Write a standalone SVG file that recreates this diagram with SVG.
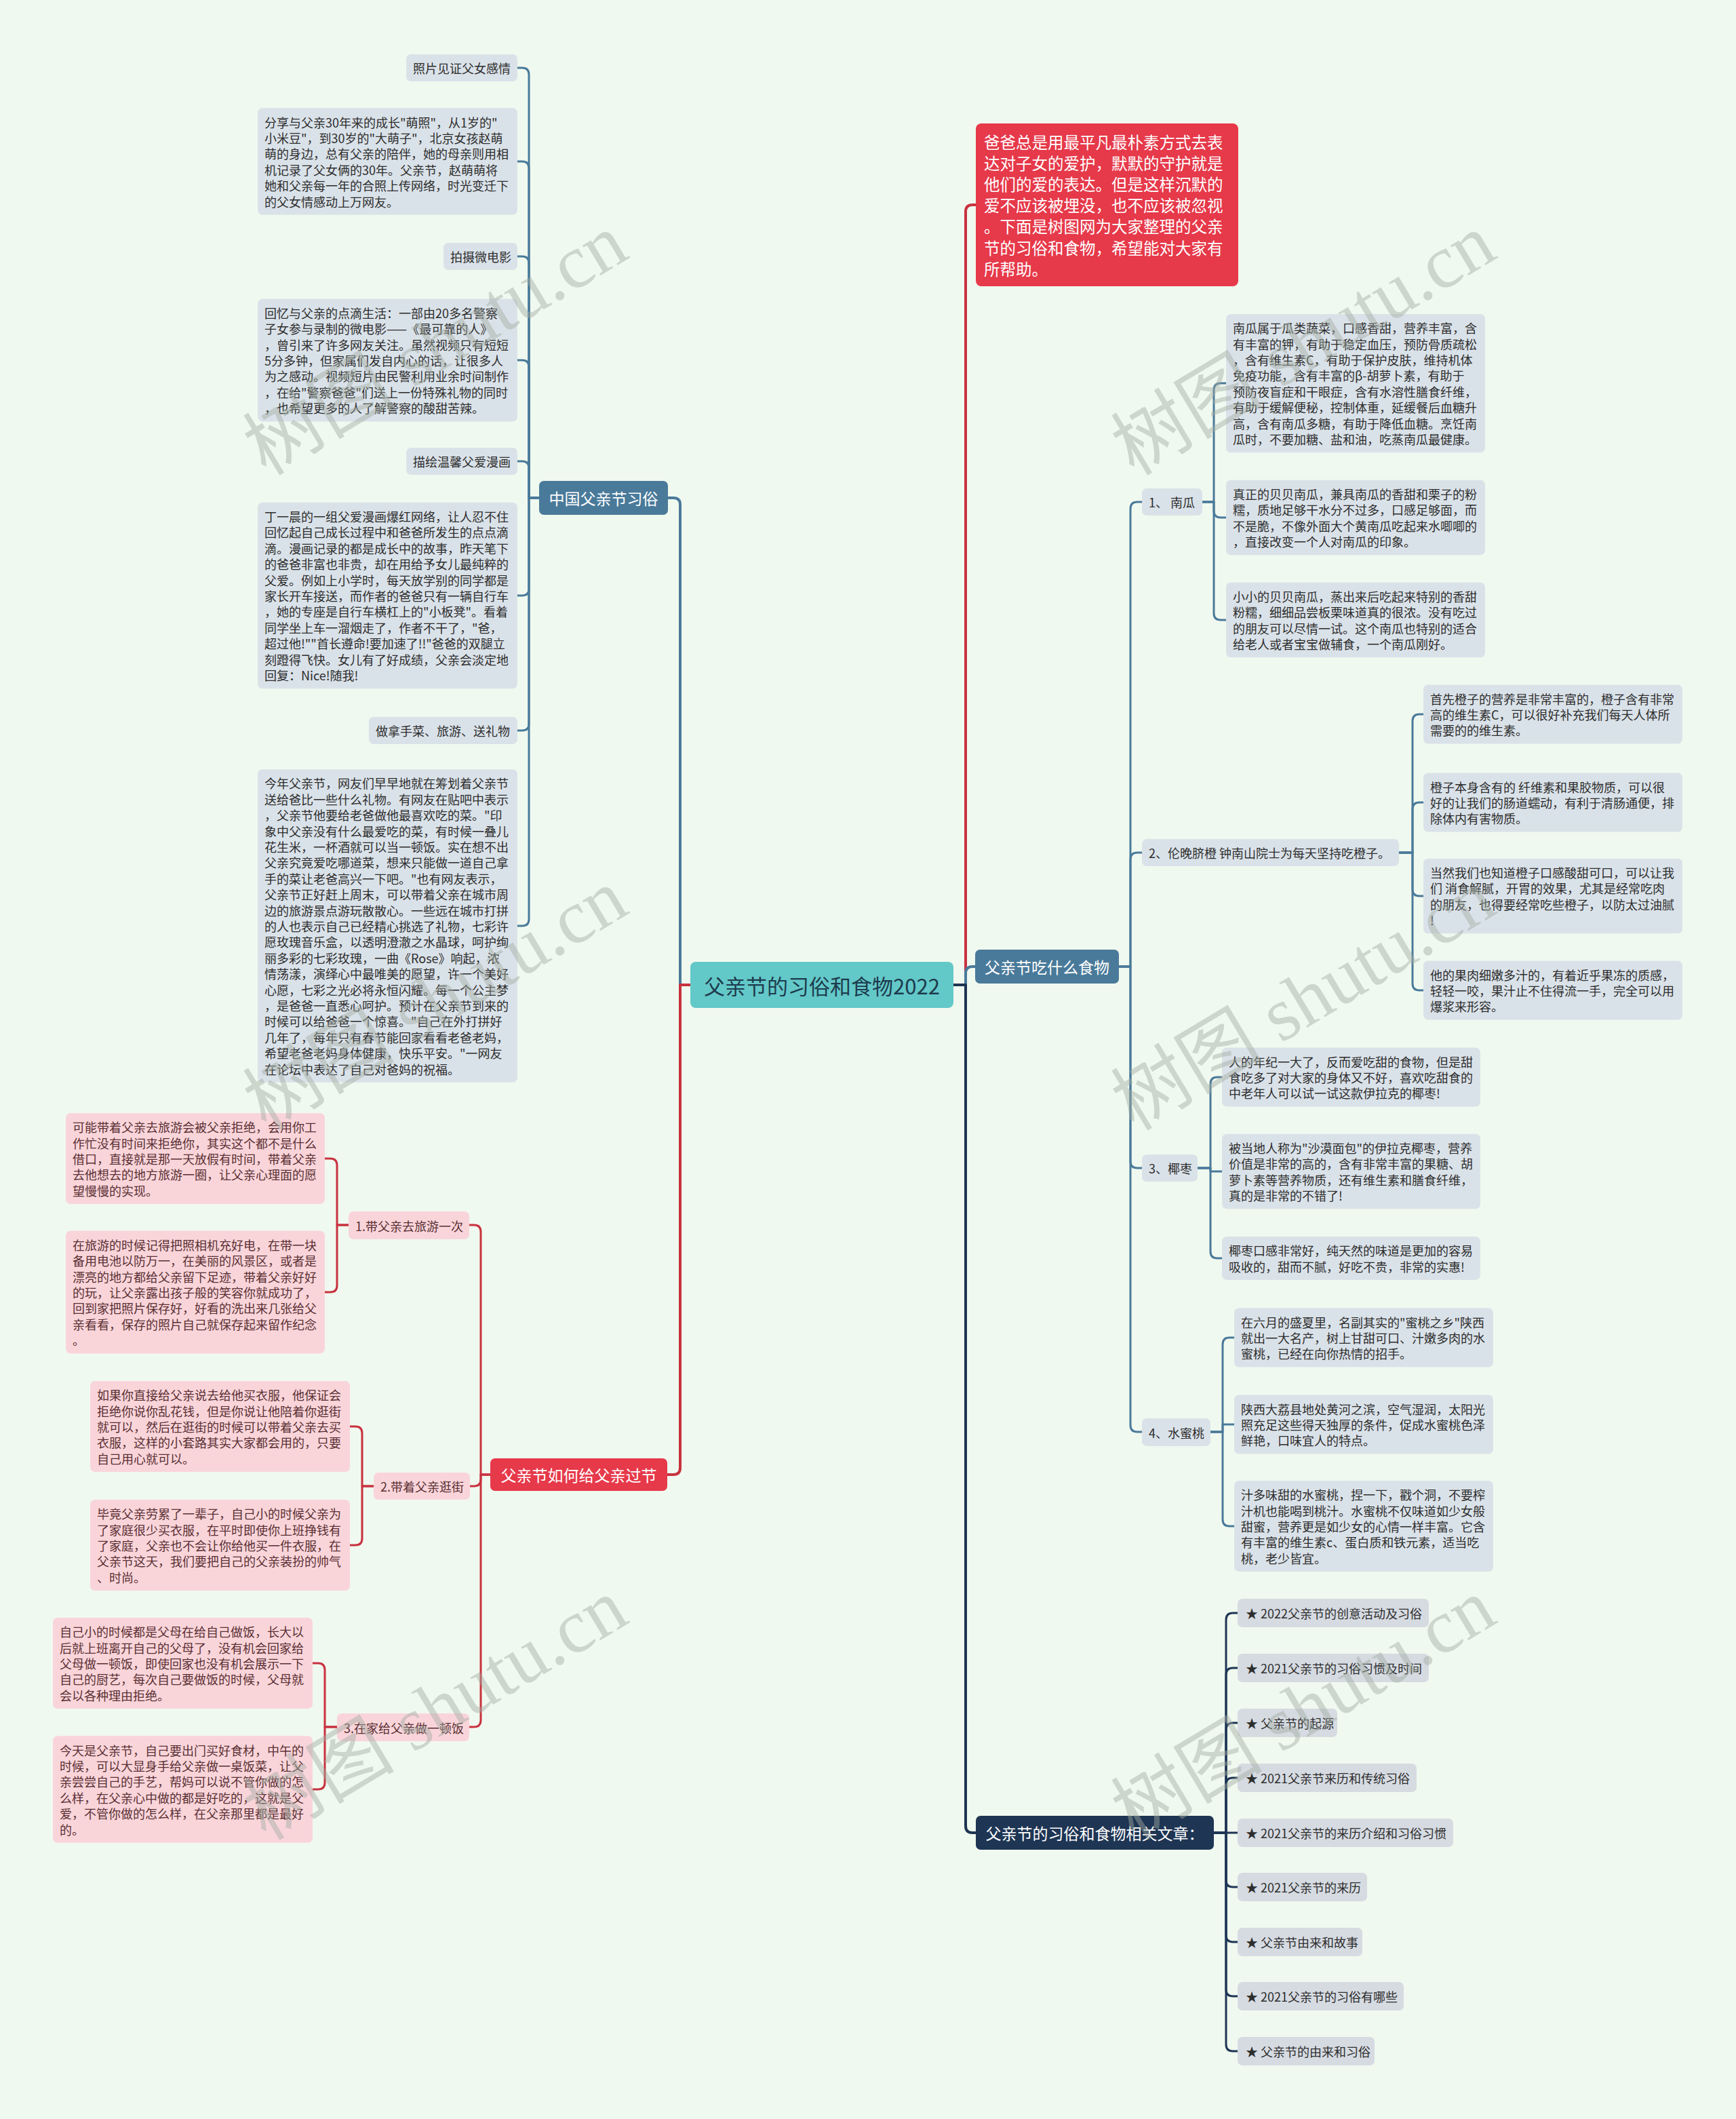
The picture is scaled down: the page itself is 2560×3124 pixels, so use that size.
<svg xmlns="http://www.w3.org/2000/svg" width="2560" height="3124" viewBox="0 0 2560 3124">
<style>
text{font-family:"Noto Sans CJK SC","Noto Sans",sans-serif;dominant-baseline:central}
.t{font-size:18px;fill:#2d2d2d}
.tp{font-size:18px;fill:#5a2f33}
.tw{font-size:23px;fill:#ffffff}
.tr{font-size:23.5px;fill:#ffffff}
.mid{text-anchor:middle}
.sb{fill:#dae2e9}
.pk{fill:#f9d5da}
.ar{fill:#d6dbe2}
.c{fill:none;stroke-width:3;stroke-linecap:round;stroke-linejoin:round}
.cb{stroke:#4a7a9a}
.cr{stroke:#c8323f}
.cn{stroke:#1e3554}
.cm{stroke-width:4}
.wm{font-family:"Liberation Serif","Noto Sans CJK SC",serif;font-size:112px;fill:#a3ada3;opacity:0.45;text-anchor:middle}
</style>
<rect width="2560" height="3124" fill="#f0f9ef"/>

<g id="connectors">
<path class="c cb cm" d="M1018,1452 H1003 V744 Q1003,734 993,734 H985"/>
<path class="c cr cm" d="M1018,1452 H1003 V2164 Q1003,2174 993,2174 H984"/>
<path class="c cr cm" d="M1406,1452 H1424 V312 Q1424,302 1434,302 H1439"/>
<path class="c cb cm" d="M1406,1452 H1424 V1435 Q1424,1425 1434,1425 H1438"/>
<path class="c cn cm" d="M1406,1452 H1424 V2692 Q1424,2702 1434,2702 H1439"/>

<path class="c cb" d="M795,734 H780 V110 Q780,100 770,100 H763"/>
<path class="c cb" d="M795,734 H780 V248 Q780,238 770,238 H763"/>
<path class="c cb" d="M795,734 H780 V388 Q780,378 770,378 H763"/>
<path class="c cb" d="M795,734 H780 V541 Q780,531 770,531 H763"/>
<path class="c cb" d="M795,734 H780 V690 Q780,680 770,680 H763"/>
<path class="c cb" d="M795,734 H780 V868 Q780,878 770,878 H763"/>
<path class="c cb" d="M795,734 H780 V1067 Q780,1077 770,1077 H763"/>
<path class="c cb" d="M795,734 H780 V1355 Q780,1365 770,1365 H763"/>

<path class="c cr" d="M723,2174 H709 V1816 Q709,1806 699,1806 H692"/>
<path class="c cr" d="M723,2174 H709 V2181 Q709,2191 699,2191 H693"/>
<path class="c cr" d="M723,2174 H709 V2536 Q709,2546 699,2546 H692"/>
<path class="c cr" d="M514,1806 H497 V1718 Q497,1708 487,1708 H479"/>
<path class="c cr" d="M514,1806 H497 V1895 Q497,1905 487,1905 H479"/>
<path class="c cr" d="M551,2191 H534 V2113 Q534,2103 524,2103 H516"/>
<path class="c cr" d="M551,2191 H534 V2268 Q534,2278 524,2278 H516"/>
<path class="c cr" d="M497,2546 H479 V2462 Q479,2452 469,2452 H461"/>
<path class="c cr" d="M497,2546 H479 V2628 Q479,2638 469,2638 H461"/>

<path class="c cb" d="M1650,1425 H1667 V750 Q1667,740 1677,740 H1684"/>
<path class="c cb" d="M1650,1425 H1667 V1267 Q1667,1257 1677,1257 H1684"/>
<path class="c cb" d="M1650,1425 H1667 V1712 Q1667,1722 1677,1722 H1684"/>
<path class="c cb" d="M1650,1425 H1667 V2101 Q1667,2111 1677,2111 H1684"/>

<path class="c cb" d="M1773,740 H1790 V575 Q1790,565 1800,565 H1808"/>
<path class="c cb" d="M1773,740 H1790 V753 Q1790,763 1800,763 H1808"/>
<path class="c cb" d="M1773,740 H1790 V904 Q1790,914 1800,914 H1808"/>

<path class="c cb" d="M2063,1257 H2083 V1063 Q2083,1053 2093,1053 H2099"/>
<path class="c cb" d="M2063,1257 H2083 V1193 Q2083,1183 2093,1183 H2099"/>
<path class="c cb" d="M2063,1257 H2083 V1311 Q2083,1321 2093,1321 H2099"/>
<path class="c cb" d="M2063,1257 H2083 V1450 Q2083,1460 2093,1460 H2099"/>

<path class="c cb" d="M1766,1722 H1785 V1598 Q1785,1588 1795,1588 H1802"/>
<path class="c cb" d="M1766,1722 H1785 V1727 H1802"/>
<path class="c cb" d="M1766,1722 H1785 V1845 Q1785,1855 1795,1855 H1802"/>

<path class="c cb" d="M1785,2111 H1803 V1982 Q1803,1972 1813,1972 H1820"/>
<path class="c cb" d="M1785,2111 H1803 V2100 H1820"/>
<path class="c cb" d="M1785,2111 H1803 V2240 Q1803,2250 1813,2250 H1820"/>

<path class="c cn" d="M1790,2702 H1808 V2388 Q1808,2378 1818,2378 H1825"/>
<path class="c cn" d="M1790,2702 H1808 V2469 Q1808,2459 1818,2459 H1825"/>
<path class="c cn" d="M1790,2702 H1808 V2550 Q1808,2540 1818,2540 H1825"/>
<path class="c cn" d="M1790,2702 H1808 V2631 Q1808,2621 1818,2621 H1825"/>
<path class="c cn" d="M1790,2702 H1825"/>
<path class="c cn" d="M1790,2702 H1808 V2772 Q1808,2782 1818,2782 H1825"/>
<path class="c cn" d="M1790,2702 H1808 V2853 Q1808,2863 1818,2863 H1825"/>
<path class="c cn" d="M1790,2702 H1808 V2933 Q1808,2943 1818,2943 H1825"/>
<path class="c cn" d="M1790,2702 H1808 V3014 Q1808,3024 1818,3024 H1825"/>
</g>

<g id="root">
<rect x="1018" y="1418" width="388" height="68" rx="8" fill="#63c8c8"/>
<text class="mid" x="1212" y="1452" style="font-size:31px;fill:#1d3b4d">父亲节的习俗和食物2022</text>
</g>

<g id="intro">
<rect x="1439" y="182" width="387" height="240" rx="8" fill="#e6394a"/>
<text class="tr"><tspan x="1451" y="208.6">爸爸总是用最平凡最朴素方式去表</tspan><tspan x="1451" y="239.8">达对子女的爱护，默默的守护就是</tspan><tspan x="1451" y="271">他们的爱的表达。但是这样沉默的</tspan><tspan x="1451" y="302.2">爱不应该被埋没，也不应该被忽视</tspan><tspan x="1451" y="333.4">。下面是树图网为大家整理的父亲</tspan><tspan x="1451" y="364.6">节的习俗和食物，希望能对大家有</tspan><tspan x="1451" y="395.8">所帮助。</tspan></text>
</g>

<g id="cn-customs">
<rect x="795" y="709" width="190" height="50" rx="7" fill="#4a7a9a"/>
<text class="tw mid" x="890" y="734">中国父亲节习俗</text>
</g>
<g id="cn-photo">
<rect class="sb" x="599" y="80" width="164" height="40" rx="7"/>
<text class="t" x="609" y="100">照片见证父女感情</text>
</g>
<g id="cn-photo-text">
<rect class="sb" x="380" y="159.3" width="383" height="157.4" rx="7"/>
<text class="t"><tspan x="390" y="179.5">分享与父亲30年来的成长"萌照"，从1岁的"</tspan><tspan x="390" y="202.9">小米豆"，到30岁的"大萌子"，北京女孩赵萌</tspan><tspan x="390" y="226.3">萌的身边，总有父亲的陪伴，她的母亲则用相</tspan><tspan x="390" y="249.7">机记录了父女俩的30年。父亲节，赵萌萌将</tspan><tspan x="390" y="273.1">她和父亲每一年的合照上传网络，时光变迁下</tspan><tspan x="390" y="296.5">的父女情感动上万网友。</tspan></text>
</g>
<g id="cn-film">
<rect class="sb" x="654" y="358" width="109" height="40" rx="7"/>
<text class="t" x="664" y="378">拍摄微电影</text>
</g>
<g id="cn-film-text">
<rect class="sb" x="380" y="440.6" width="383" height="180.8" rx="7"/>
<text class="t"><tspan x="390" y="460.8">回忆与父亲的点滴生活：一部由20多名警察</tspan><tspan x="390" y="484.2">子女参与录制的微电影——《最可靠的人》</tspan><tspan x="390" y="507.6">，曾引来了许多网友关注。虽然视频只有短短</tspan><tspan x="390" y="531">5分多钟，但家属们发自内心的话，让很多人</tspan><tspan x="390" y="554.4">为之感动。视频短片由民警利用业余时间制作</tspan><tspan x="390" y="577.8">，在给"警察爸爸"们送上一份特殊礼物的同时</tspan><tspan x="390" y="601.2">，也希望更多的人了解警察的酸甜苦辣。</tspan></text>
</g>
<g id="cn-comic">
<rect class="sb" x="599" y="660" width="164" height="40" rx="7"/>
<text class="t" x="609" y="680">描绘温馨父爱漫画</text>
</g>
<g id="cn-comic-text">
<rect class="sb" x="380" y="740.8" width="383" height="274.4" rx="7"/>
<text class="t"><tspan x="390" y="761">丁一晨的一组父爱漫画爆红网络，让人忍不住</tspan><tspan x="390" y="784.4">回忆起自己成长过程中和爸爸所发生的点点滴</tspan><tspan x="390" y="807.8">滴。漫画记录的都是成长中的故事，昨天笔下</tspan><tspan x="390" y="831.2">的爸爸非富也非贵，却在用给予女儿最纯粹的</tspan><tspan x="390" y="854.6">父爱。例如上小学时，每天放学别的同学都是</tspan><tspan x="390" y="878">家长开车接送，而作者的爸爸只有一辆自行车</tspan><tspan x="390" y="901.4">，她的专座是自行车横杠上的"小板凳"。看着</tspan><tspan x="390" y="924.8">同学坐上车一溜烟走了，作者不干了，"爸，</tspan><tspan x="390" y="948.2">超过他!""首长遵命!要加速了!!"爸爸的双腿立</tspan><tspan x="390" y="971.6">刻蹬得飞快。女儿有了好成绩，父亲会淡定地</tspan><tspan x="390" y="995">回复：Nice!随我!</tspan></text>
</g>
<g id="cn-gift">
<rect class="sb" x="544" y="1057" width="219" height="40" rx="7"/>
<text class="t" x="554" y="1077">做拿手菜、旅游、送礼物</text>
</g>
<g id="cn-gift-text">
<rect class="sb" x="380" y="1134.2" width="383" height="461.6" rx="7"/>
<text class="t"><tspan x="390" y="1154.4">今年父亲节，网友们早早地就在筹划着父亲节</tspan><tspan x="390" y="1177.8">送给爸比一些什么礼物。有网友在贴吧中表示</tspan><tspan x="390" y="1201.2">，父亲节他要给老爸做他最喜欢吃的菜。"印</tspan><tspan x="390" y="1224.6">象中父亲没有什么最爱吃的菜，有时候一叠儿</tspan><tspan x="390" y="1248">花生米，一杯酒就可以当一顿饭。实在想不出</tspan><tspan x="390" y="1271.4">父亲究竟爱吃哪道菜，想来只能做一道自己拿</tspan><tspan x="390" y="1294.8">手的菜让老爸高兴一下吧。"也有网友表示，</tspan><tspan x="390" y="1318.2">父亲节正好赶上周末，可以带着父亲在城市周</tspan><tspan x="390" y="1341.6">边的旅游景点游玩散散心。一些远在城市打拼</tspan><tspan x="390" y="1365">的人也表示自己已经精心挑选了礼物，七彩许</tspan><tspan x="390" y="1388.4">愿玫瑰音乐盒，以透明澄澈之水晶球，呵护绚</tspan><tspan x="390" y="1411.8">丽多彩的七彩玫瑰，一曲《Rose》响起，浓</tspan><tspan x="390" y="1435.2">情荡漾，演绎心中最唯美的愿望，许一个美好</tspan><tspan x="390" y="1458.6">心愿，七彩之光必将永恒闪耀。每一个公主梦</tspan><tspan x="390" y="1482">，是爸爸一直悉心呵护。预计在父亲节到来的</tspan><tspan x="390" y="1505.4">时候可以给爸爸一个惊喜。"自己在外打拼好</tspan><tspan x="390" y="1528.8">几年了，每年只有春节能回家看看老爸老妈，</tspan><tspan x="390" y="1552.2">希望老爸老妈身体健康，快乐平安。"一网友</tspan><tspan x="390" y="1575.6">在论坛中表达了自己对爸妈的祝福。</tspan></text>
</g>

<g id="celebrate">
<rect x="723" y="2150" width="261" height="48" rx="7" fill="#e6394a"/>
<text class="tw mid" x="853.5" y="2174">父亲节如何给父亲过节</text>
</g>
<g id="travel">
<rect class="pk" x="514" y="1786" width="178" height="41" rx="7"/>
<text class="tp" x="524" y="1806.5">1.带父亲去旅游一次</text>
</g>
<g id="travel-1">
<rect class="pk" x="97" y="1641" width="382" height="134" rx="7"/>
<text class="tp"><tspan x="107" y="1661.2">可能带着父亲去旅游会被父亲拒绝，会用你工</tspan><tspan x="107" y="1684.6">作忙没有时间来拒绝你，其实这个都不是什么</tspan><tspan x="107" y="1708">借口，直接就是那一天放假有时间，带着父亲</tspan><tspan x="107" y="1731.4">去他想去的地方旅游一圈，让父亲心理面的愿</tspan><tspan x="107" y="1754.8">望慢慢的实现。</tspan></text>
</g>
<g id="travel-2">
<rect class="pk" x="97" y="1814.6" width="382" height="180.8" rx="7"/>
<text class="tp"><tspan x="107" y="1834.8">在旅游的时候记得把照相机充好电，在带一块</tspan><tspan x="107" y="1858.2">备用电池以防万一，在美丽的风景区，或者是</tspan><tspan x="107" y="1881.6">漂亮的地方都给父亲留下足迹，带着父亲好好</tspan><tspan x="107" y="1905">的玩，让父亲露出孩子般的笑容你就成功了，</tspan><tspan x="107" y="1928.4">回到家把照片保存好，好看的洗出来几张给父</tspan><tspan x="107" y="1951.8">亲看看，保存的照片自己就保存起来留作纪念</tspan><tspan x="107" y="1975.2">。</tspan></text>
</g>
<g id="shopping">
<rect class="pk" x="551" y="2171" width="142" height="40" rx="7"/>
<text class="tp" x="561" y="2191">2.带着父亲逛街</text>
</g>
<g id="shopping-1">
<rect class="pk" x="133" y="2036" width="383" height="134" rx="7"/>
<text class="tp"><tspan x="143" y="2056.2">如果你直接给父亲说去给他买衣服，他保证会</tspan><tspan x="143" y="2079.6">拒绝你说你乱花钱，但是你说让他陪着你逛街</tspan><tspan x="143" y="2103">就可以，然后在逛街的时候可以带着父亲去买</tspan><tspan x="143" y="2126.4">衣服，这样的小套路其实大家都会用的，只要</tspan><tspan x="143" y="2149.8">自己用心就可以。</tspan></text>
</g>
<g id="shopping-2">
<rect class="pk" x="133" y="2211" width="383" height="134" rx="7"/>
<text class="tp"><tspan x="143" y="2231.2">毕竟父亲劳累了一辈子，自己小的时候父亲为</tspan><tspan x="143" y="2254.6">了家庭很少买衣服，在平时即使你上班挣钱有</tspan><tspan x="143" y="2278">了家庭，父亲也不会让你给他买一件衣服，在</tspan><tspan x="143" y="2301.4">父亲节这天，我们要把自己的父亲装扮的帅气</tspan><tspan x="143" y="2324.8">、时尚。</tspan></text>
</g>
<g id="cooking">
<rect class="pk" x="497" y="2526" width="195" height="41" rx="7"/>
<text class="tp" x="507" y="2546.5">3.在家给父亲做一顿饭</text>
</g>
<g id="cooking-1">
<rect class="pk" x="78" y="2385" width="383" height="134" rx="7"/>
<text class="tp"><tspan x="88" y="2405.2">自己小的时候都是父母在给自己做饭，长大以</tspan><tspan x="88" y="2428.6">后就上班离开自己的父母了，没有机会回家给</tspan><tspan x="88" y="2452">父母做一顿饭，即使回家也没有机会展示一下</tspan><tspan x="88" y="2475.4">自己的厨艺，每次自己要做饭的时候，父母就</tspan><tspan x="88" y="2498.8">会以各种理由拒绝。</tspan></text>
</g>
<g id="cooking-2">
<rect class="pk" x="78" y="2559.3" width="383" height="157.4" rx="7"/>
<text class="tp"><tspan x="88" y="2579.5">今天是父亲节，自己要出门买好食材，中午的</tspan><tspan x="88" y="2602.9">时候，可以大显身手给父亲做一桌饭菜，让父</tspan><tspan x="88" y="2626.3">亲尝尝自己的手艺，帮妈可以说不管你做的怎</tspan><tspan x="88" y="2649.7">么样，在父亲心中做的都是好吃的，这就是父</tspan><tspan x="88" y="2673.1">爱，不管你做的怎么样，在父亲那里都是最好</tspan><tspan x="88" y="2696.5">的。</tspan></text>
</g>

<g id="food">
<rect x="1438" y="1400" width="212" height="50" rx="7" fill="#4a7a9a"/>
<text class="tw mid" x="1544" y="1425">父亲节吃什么食物</text>
</g>
<g id="pumpkin">
<rect class="sb" x="1684" y="720" width="89" height="40" rx="7"/>
<text class="t" x="1694" y="740">1、 南瓜</text>
</g>
<g id="pumpkin-1">
<rect class="sb" x="1808" y="463" width="382" height="204.2" rx="7"/>
<text class="t"><tspan x="1818" y="483.2">南瓜属于瓜类蔬菜，口感香甜，营养丰富，含</tspan><tspan x="1818" y="506.6">有丰富的钾，有助于稳定血压，预防骨质疏松</tspan><tspan x="1818" y="530">，含有维生素C，有助于保护皮肤，维持机体</tspan><tspan x="1818" y="553.4">免疫功能，含有丰富的β-胡萝卜素，有助于</tspan><tspan x="1818" y="576.8">预防夜盲症和干眼症，含有水溶性膳食纤维，</tspan><tspan x="1818" y="600.2">有助于缓解便秘，控制体重，延缓餐后血糖升</tspan><tspan x="1818" y="623.6">高，含有南瓜多糖，有助于降低血糖。烹饪南</tspan><tspan x="1818" y="647">瓜时，不要加糖、盐和油，吃蒸南瓜最健康。</tspan></text>
</g>
<g id="pumpkin-2">
<rect class="sb" x="1808" y="707.7" width="382" height="110.6" rx="7"/>
<text class="t"><tspan x="1818" y="727.9">真正的贝贝南瓜，兼具南瓜的香甜和栗子的粉</tspan><tspan x="1818" y="751.3">糯，质地足够干水分不过多，口感足够面，而</tspan><tspan x="1818" y="774.7">不是脆，不像外面大个黄南瓜吃起来水唧唧的</tspan><tspan x="1818" y="798.1">，直接改变一个人对南瓜的印象。</tspan></text>
</g>
<g id="pumpkin-3">
<rect class="sb" x="1808" y="858.7" width="382" height="110.6" rx="7"/>
<text class="t"><tspan x="1818" y="878.9">小小的贝贝南瓜，蒸出来后吃起来特别的香甜</tspan><tspan x="1818" y="902.3">粉糯，细细品尝板栗味道真的很浓。没有吃过</tspan><tspan x="1818" y="925.7">的朋友可以尽情一试。这个南瓜也特别的适合</tspan><tspan x="1818" y="949.1">给老人或者宝宝做辅食，一个南瓜刚好。</tspan></text>
</g>
<g id="orange">
<rect class="sb" x="1684" y="1237" width="379" height="40" rx="7"/>
<text class="t" x="1694" y="1257">2、伦晚脐橙 钟南山院士为每天坚持吃橙子。</text>
</g>
<g id="orange-1">
<rect class="sb" x="2099" y="1009.4" width="382" height="87.2" rx="7"/>
<text class="t"><tspan x="2109" y="1029.6">首先橙子的营养是非常丰富的，橙子含有非常</tspan><tspan x="2109" y="1053">高的维生素C，可以很好补充我们每天人体所</tspan><tspan x="2109" y="1076.4">需要的的维生素。</tspan></text>
</g>
<g id="orange-2">
<rect class="sb" x="2099" y="1139.4" width="382" height="87.2" rx="7"/>
<text class="t"><tspan x="2109" y="1159.6">橙子本身含有的 纤维素和果胶物质，可以很</tspan><tspan x="2109" y="1183">好的让我们的肠道蠕动，有利于清肠通便，排</tspan><tspan x="2109" y="1206.4">除体内有害物质。</tspan></text>
</g>
<g id="orange-3">
<rect class="sb" x="2099" y="1265.7" width="382" height="110.6" rx="7"/>
<text class="t"><tspan x="2109" y="1285.9">当然我们也知道橙子口感酸甜可口，可以让我</tspan><tspan x="2109" y="1309.3">们 消食解腻，开胃的效果，尤其是经常吃肉</tspan><tspan x="2109" y="1332.7">的朋友，也得要经常吃些橙子，以防太过油腻</tspan><tspan x="2109" y="1356.1">!</tspan></text>
</g>
<g id="orange-4">
<rect class="sb" x="2099" y="1416.4" width="382" height="87.2" rx="7"/>
<text class="t"><tspan x="2109" y="1436.6">他的果肉细嫩多汁的，有着近乎果冻的质感，</tspan><tspan x="2109" y="1460">轻轻一咬，果汁止不住得流一手，完全可以用</tspan><tspan x="2109" y="1483.4">爆浆来形容。</tspan></text>
</g>
<g id="date">
<rect class="sb" x="1684" y="1702" width="82" height="40" rx="7"/>
<text class="t" x="1694" y="1722">3、椰枣</text>
</g>
<g id="date-1">
<rect class="sb" x="1802" y="1544.4" width="381" height="87.2" rx="7"/>
<text class="t"><tspan x="1812" y="1564.6">人的年纪一大了，反而爱吃甜的食物，但是甜</tspan><tspan x="1812" y="1588">食吃多了对大家的身体又不好，喜欢吃甜食的</tspan><tspan x="1812" y="1611.4">中老年人可以试一试这款伊拉克的椰枣!</tspan></text>
</g>
<g id="date-2">
<rect class="sb" x="1802" y="1671.7" width="381" height="110.6" rx="7"/>
<text class="t"><tspan x="1812" y="1691.9">被当地人称为"沙漠面包"的伊拉克椰枣，营养</tspan><tspan x="1812" y="1715.3">价值是非常的高的，含有非常丰富的果糖、胡</tspan><tspan x="1812" y="1738.7">萝卜素等营养物质，还有维生素和膳食纤维，</tspan><tspan x="1812" y="1762.1">真的是非常的不错了!</tspan></text>
</g>
<g id="date-3">
<rect class="sb" x="1802" y="1823.1" width="381" height="63.8" rx="7"/>
<text class="t"><tspan x="1812" y="1843.3">椰枣口感非常好，纯天然的味道是更加的容易</tspan><tspan x="1812" y="1866.7">吸收的，甜而不腻，好吃不贵，非常的实惠!</tspan></text>
</g>
<g id="peach">
<rect class="sb" x="1684" y="2091" width="101" height="41" rx="7"/>
<text class="t" x="1694" y="2111.5">4、水蜜桃</text>
</g>
<g id="peach-1">
<rect class="sb" x="1820" y="1928.4" width="382" height="87.2" rx="7"/>
<text class="t"><tspan x="1830" y="1948.6">在六月的盛夏里，名副其实的"蜜桃之乡"陕西</tspan><tspan x="1830" y="1972">就出一大名产，树上甘甜可口、汁嫩多肉的水</tspan><tspan x="1830" y="1995.4">蜜桃，已经在向你热情的招手。</tspan></text>
</g>
<g id="peach-2">
<rect class="sb" x="1820" y="2056.4" width="382" height="87.2" rx="7"/>
<text class="t"><tspan x="1830" y="2076.6">陕西大荔县地处黄河之滨，空气湿润，太阳光</tspan><tspan x="1830" y="2100">照充足这些得天独厚的条件，促成水蜜桃色泽</tspan><tspan x="1830" y="2123.4">鲜艳，口味宜人的特点。</tspan></text>
</g>
<g id="peach-3">
<rect class="sb" x="1820" y="2183" width="382" height="134" rx="7"/>
<text class="t"><tspan x="1830" y="2203.2">汁多味甜的水蜜桃，捏一下，戳个洞，不要榨</tspan><tspan x="1830" y="2226.6">汁机也能喝到桃汁。水蜜桃不仅味道如少女般</tspan><tspan x="1830" y="2250">甜蜜，营养更是如少女的心情一样丰富。它含</tspan><tspan x="1830" y="2273.4">有丰富的维生素c、蛋白质和铁元素，适当吃</tspan><tspan x="1830" y="2296.8">桃，老少皆宜。</tspan></text>
</g>

<g id="articles">
<rect x="1439" y="2677" width="351" height="50" rx="7" fill="#1e3554"/>
<text class="tw mid" x="1614.5" y="2702">父亲节的习俗和食物相关文章：</text>
</g>
<g id="article-1"><rect class="ar" x="1825" y="2357" width="282" height="42" rx="7"/><text class="t" x="1837" y="2378">★ 2022父亲节的创意活动及习俗</text></g>
<g id="article-2"><rect class="ar" x="1825" y="2438" width="282" height="42" rx="7"/><text class="t" x="1837" y="2459">★ 2021父亲节的习俗习惯及时间</text></g>
<g id="article-3"><rect class="ar" x="1825" y="2519" width="147" height="42" rx="7"/><text class="t" x="1837" y="2540">★ 父亲节的起源</text></g>
<g id="article-4"><rect class="ar" x="1825" y="2600" width="264" height="42" rx="7"/><text class="t" x="1837" y="2621">★ 2021父亲节来历和传统习俗</text></g>
<g id="article-5"><rect class="ar" x="1825" y="2681" width="318" height="42" rx="7"/><text class="t" x="1837" y="2702">★ 2021父亲节的来历介绍和习俗习惯</text></g>
<g id="article-6"><rect class="ar" x="1825" y="2761" width="191" height="42" rx="7"/><text class="t" x="1837" y="2782">★ 2021父亲节的来历</text></g>
<g id="article-7"><rect class="ar" x="1825" y="2842" width="184" height="42" rx="7"/><text class="t" x="1837" y="2863">★ 父亲节由来和故事</text></g>
<g id="article-8"><rect class="ar" x="1825" y="2922" width="245" height="42" rx="7"/><text class="t" x="1837" y="2943">★ 2021父亲节的习俗有哪些</text></g>
<g id="article-9"><rect class="ar" x="1825" y="3003" width="202" height="42" rx="7"/><text class="t" x="1837" y="3024">★ 父亲节的由来和习俗</text></g>

<g id="watermark">
<text class="wm" transform="translate(642,508) rotate(-31)">树图 shutu.cn</text>
<text class="wm" transform="translate(1922,508) rotate(-31)">树图 shutu.cn</text>
<text class="wm" transform="translate(642,1474) rotate(-31)">树图 shutu.cn</text>
<text class="wm" transform="translate(1922,1474) rotate(-31)">树图 shutu.cn</text>
<text class="wm" transform="translate(642,2520) rotate(-31)">树图 shutu.cn</text>
<text class="wm" transform="translate(1922,2520) rotate(-31)">树图 shutu.cn</text>
</g>
</svg>
